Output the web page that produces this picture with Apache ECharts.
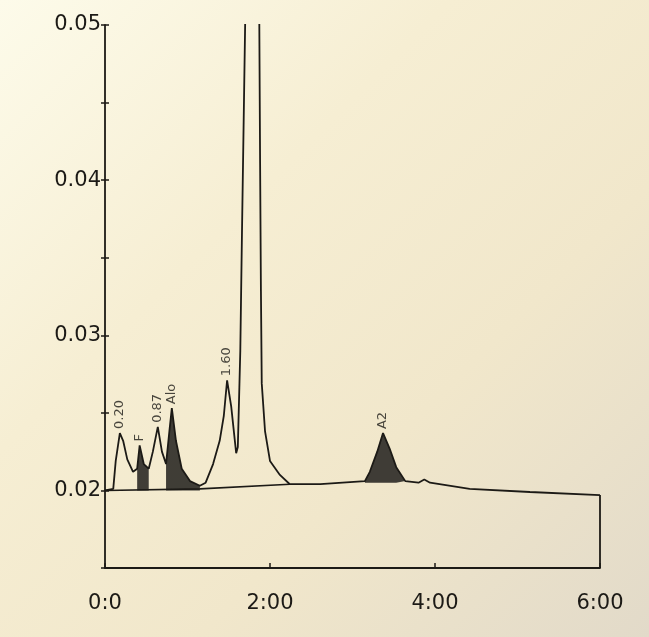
<!DOCTYPE html>
<html>
<head>
<meta charset="utf-8">
<script src="https://cdn.jsdelivr.net/npm/echarts@6/dist/echarts.min.js"></script>
<style>
  html, body { margin: 0; padding: 0; }
  body {
    width: 649px; height: 637px; overflow: hidden;
    background: linear-gradient(135deg, #fdfbea 0%, #f6eed3 35%, #f1e7cb 65%, #e2dac9 100%);
  }
  #chart { width: 649px; height: 637px; }
</style>
</head>
<body>
<div id="chart"></div>
<script>
// chromatogram trace: time (min) and absorbance
const traceTime = [
  0, 0.10, 0.13, 0.18, 0.22, 0.27, 0.34, 0.39, 0.42, 0.47,
  0.53, 0.58, 0.64, 0.69, 0.74, 0.78, 0.81, 0.86, 0.93, 1.03,
  1.15, 1.22, 1.31, 1.39, 1.44, 1.48, 1.53, 1.59, 1.61, 1.64,
  1.66, 1.70, 1.78, 1.87, 1.88, 1.89, 1.90, 1.94, 2.00, 2.12,
  2.24, 2.61, 3.15, 3.21, 3.30, 3.37, 3.45, 3.53, 3.64, 3.80,
  3.87, 3.94, 4.42, 5.15, 6.00
]
const traceValue = [
  0.0200, 0.0201, 0.0219, 0.0237, 0.0232, 0.0220, 0.0212, 0.0214, 0.0229, 0.0217,
  0.0214, 0.0225, 0.0241, 0.0225, 0.0217, 0.0238, 0.0253, 0.0232, 0.0214, 0.0206,
  0.0203, 0.0205, 0.0217, 0.0232, 0.0248, 0.0271, 0.0254, 0.0224, 0.0228, 0.0290,
  0.0365, 0.0505, 0.0800, 0.0505, 0.0411, 0.0329, 0.0269, 0.0238, 0.0219, 0.0210,
  0.0204, 0.0204, 0.0206, 0.0212, 0.0225, 0.0237, 0.0227, 0.0215, 0.0206, 0.0205,
  0.0207, 0.0205, 0.0201, 0.0199, 0.0197
]

// integration baseline under the early peaks
const baseTime = [0, 1.15, 2.24]
const baseValue = [0.0200, 0.0201, 0.0204]

// shaded (integrated) peaks: index range into the trace and fill floor
const shadeStart = [7, 14, 42]
const shadeEnd = [10, 20, 48]
const shadeFloor = [0.0200, 0.0200, 0.0205]

// peak labels
const peakNames = ['0.20', 'F', '0.87', 'Alo', '1.60', 'A2']
const peakTime = [0.18, 0.42, 0.64, 0.81, 1.48, 3.37]
const peakValue = [0.0237, 0.0229, 0.0241, 0.0253, 0.0271, 0.0237]

// closing edge at the end of the run
const frameTime = [6, 6]
const frameValue = [0.0197, 0.015]

const xTickLabels = { 0: '0:0', 2: '2:00', 4: '4:00', 6: '6:00' }

const ink = '#1c1a16'
const font = 'DejaVu Sans, Arial, sans-serif'
const zip = (a, b) => a.map((v, i) => [v, b[i]])

const series = [
  {
    type: 'line', data: zip(baseTime, baseValue), symbol: 'none',
    lineStyle: { color: ink, width: 1.6 }, z: 3
  },
  {
    type: 'line', data: zip(traceTime, traceValue), symbol: 'none', clip: true,
    lineStyle: { color: ink, width: 1.8 }, z: 4
  },
  {
    type: 'line', data: zip(frameTime, frameValue), symbol: 'none',
    lineStyle: { color: ink, width: 1.8 }, z: 4
  },
  {
    type: 'scatter', data: zip(peakTime, peakValue), symbolSize: 0,
    label: {
      show: true, position: 'top', distance: 4, rotate: 90,
      align: 'left', verticalAlign: 'middle',
      color: ink, fontSize: 13, fontFamily: font,
      formatter: p => peakNames[p.dataIndex]
    }, z: 5
  }
]
shadeStart.forEach((s, k) => {
  series.push({
    type: 'line',
    data: zip(traceTime.slice(s, shadeEnd[k] + 1), traceValue.slice(s, shadeEnd[k] + 1)),
    symbol: 'none',
    lineStyle: { width: 0 },
    areaStyle: { color: '#302e29', opacity: 0.92, origin: shadeFloor[k] },
    z: 2
  })
})

const chart = echarts.init(document.getElementById('chart'))
chart.setOption({
  backgroundColor: 'transparent',
  animation: false,
  grid: { left: 105, right: 49, top: 25, bottom: 69 },
  xAxis: {
    type: 'value', min: 0, max: 6, interval: 2,
    axisLine: { lineStyle: { color: ink, width: 1.8 } },
    axisTick: { inside: true, length: 5, lineStyle: { color: ink, width: 1.5 } },
    axisLabel: {
      color: ink, fontSize: 21, margin: 25, fontFamily: font,
      formatter: v => xTickLabels[v] ?? ''
    },
    splitLine: { show: false }
  },
  yAxis: [
    {
      type: 'value', min: 0.015, max: 0.05, interval: 0.005,
      axisLine: { show: true, lineStyle: { color: ink, width: 1.8 } },
      axisTick: { show: true, length: 4, lineStyle: { color: ink, width: 1.5 } },
      axisLabel: {
        color: ink, fontSize: 21, margin: 4, fontFamily: font,
        formatter: v => {
          const r = Math.round(v * 1000)
          return r % 10 === 0 && r >= 20 ? (r / 1000).toFixed(2) : ''
        }
      },
      splitLine: { show: false }
    },
    {
      type: 'value', min: 0.015, max: 0.05, interval: 0.005, position: 'left', offset: 0,
      axisLine: { show: false },
      axisTick: { show: true, inside: true, length: 4, lineStyle: { color: ink, width: 1.5 } },
      axisLabel: { show: false },
      splitLine: { show: false }
    }
  ],
  series
})
</script>
</body>
</html>
